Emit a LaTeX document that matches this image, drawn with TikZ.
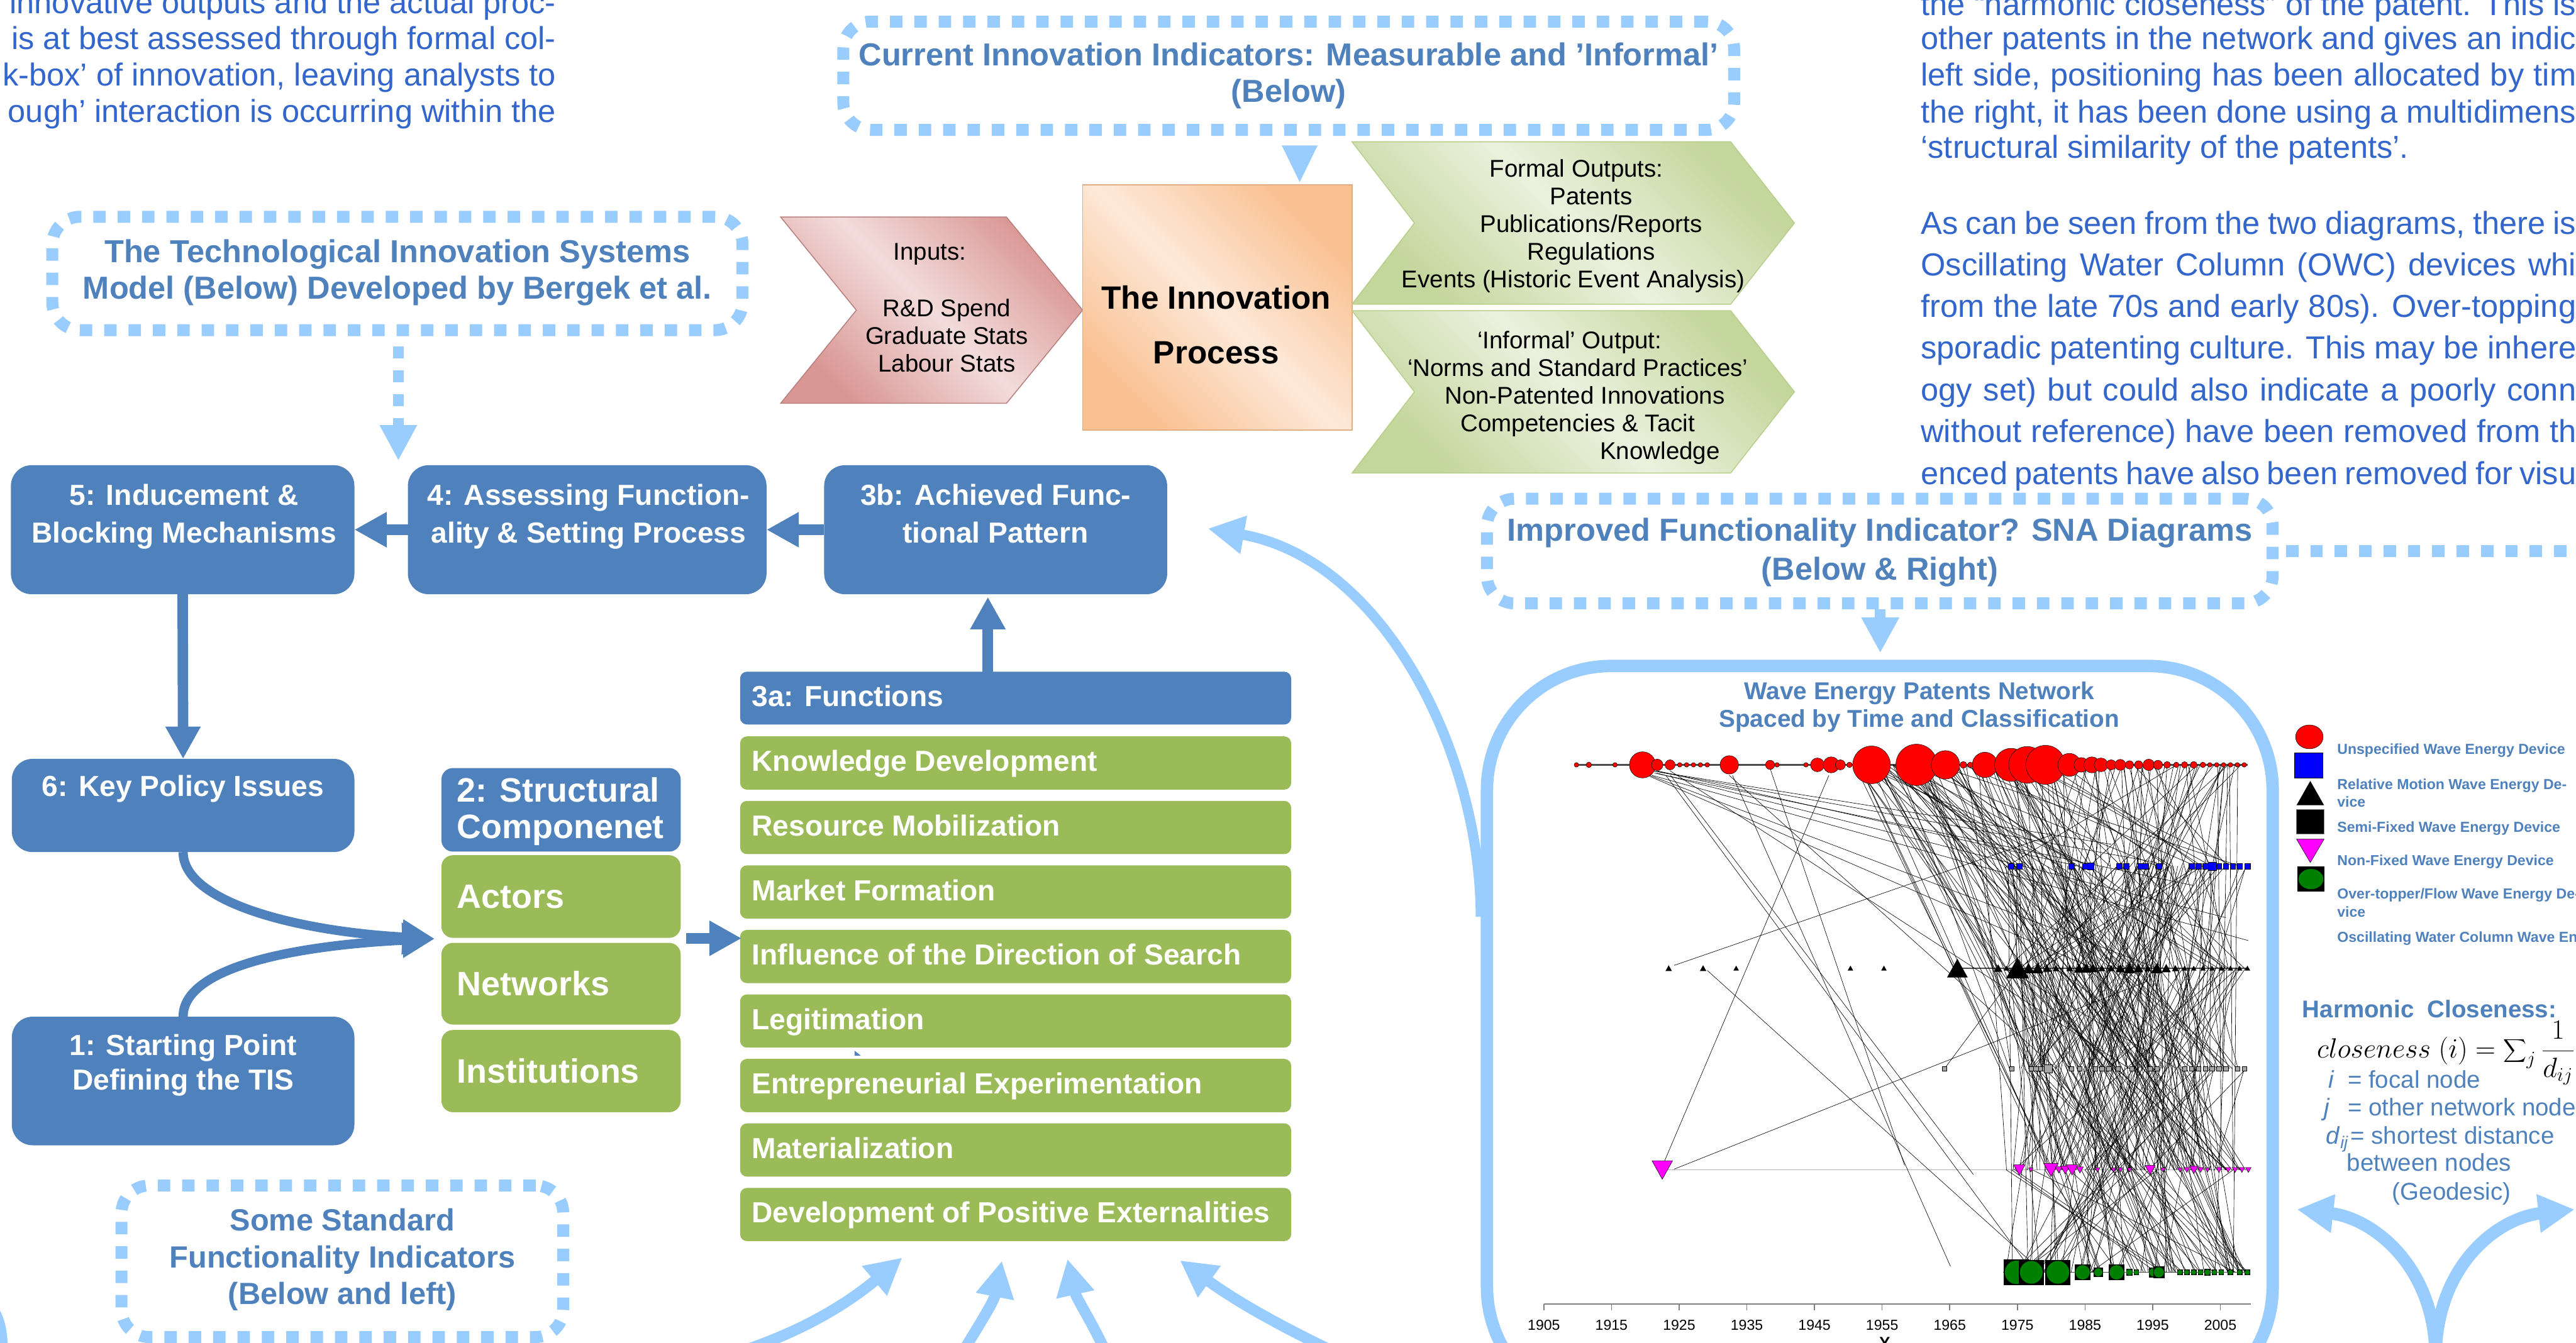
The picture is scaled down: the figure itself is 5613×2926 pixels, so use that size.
\documentclass[tikz,border=0pt]{standalone}
\usepackage{fontspec}
\setmainfont{Liberation Sans}
\usetikzlibrary{arrows.meta,calc}
\definecolor{boxblue}{HTML}{4F81BD}
\definecolor{boxgreen}{HTML}{9BBB59}
\definecolor{lblue}{HTML}{99CCFF}
\definecolor{txtblue}{HTML}{3366CC}
\definecolor{pinkd}{HTML}{D99694}
\definecolor{pinkl}{HTML}{F2DCDB}
\definecolor{orad}{HTML}{FAC090}
\definecolor{oral}{HTML}{FDE9D9}
\definecolor{grnd}{HTML}{C3D69B}
\definecolor{grnl}{HTML}{EBF1DE}
\definecolor{netgreen}{HTML}{008000}
\definecolor{netmag}{HTML}{FF00FF}
\newcommand{\fsz}[2]{\fontsize{#1}{#2}\selectfont}
\newcommand{\myjust}[1]{\makebox[406pt][s]{#1}}
\tikzset{
  bluebox/.style={fill=boxblue, rounded corners=0.45cm, inner sep=0pt, outer sep=0pt},
  greenbox/.style={fill=boxgreen, rounded corners=0.15cm, inner sep=0pt, outer sep=0pt},
  bluebar/.style={fill=boxblue, rounded corners=0.15cm, inner sep=0pt, outer sep=0pt},
  structbox/.style={rounded corners=0.25cm, inner sep=0pt, outer sep=0pt},
  boxtxt/.style={text=white, font=\bfseries\fsz{18}{23.6}, align=center, inner sep=0pt},
  itemtxt/.style={text=white, font=\bfseries\fsz{18}{21}, anchor=mid west, inner sep=0pt},
  structtxt/.style={text=white, font=\bfseries\fsz{21}{22.5}, anchor=west, align=left, inner sep=0pt},
  dashbox/.style={draw=lblue, line width=7.4pt, dash pattern=on 7.7pt off 7.4pt, rounded corners=0.6cm, inner sep=0pt},
  titletxt/.style={text=boxblue, font=\bfseries\fsz{19.7}{22.8}, align=center, inner sep=0pt},
  blockarrow/.style={draw=boxblue, line width=6.5pt, -{Triangle[width=20.5pt,length=20pt]}},
  curvearrow/.style={draw=boxblue, line width=5.7pt, -{Triangle[width=20.5pt,length=20pt]}},
  lbarrow/.style={draw=lblue, line width=6.8pt, -{Triangle[width=22.5pt,length=22.5pt]}},
  paratxt/.style={text=txtblue, font=\fsz{19.7}{22.6}, inner sep=0pt},
  blacktxt/.style={text=black, font=\fsz{15}{17.1}, inner sep=0pt},
  legtxt/.style={text=boxblue, font=\bfseries\fsz{9}{10.5}, anchor=mid west, inner sep=0pt},
  hctxt/.style={text=boxblue, font=\fsz{15}{17}, anchor=mid west, inner sep=0pt},
  edge/.style={draw=black, line width=0.25pt},
  nd/.style={draw=black, line width=0.2pt},
}
\begin{document}
\begin{tikzpicture}[x=0.01cm,y=-0.01cm]
\useasboundingbox (0,0) rectangle (5613,2926);
\fill[white] (0,0) rectangle (5613,2926);

% ---------------- paragraphs
\node[paratxt, anchor=base east] (tl1) at (1212,29) {innovative outputs and the actual proc-};
\node[paratxt, anchor=base east] (tl2) at (1212,108) {is at best assessed through formal col-};
\node[paratxt, anchor=base east] (tl3) at (1212,187) {k-box’ of innovation, leaving analysts to};
\node[paratxt, anchor=base east] (tl4) at (1212,267) {ough’ interaction is occurring within the};

\node[paratxt, anchor=mid west] (tr1) at (4185,24) {\myjust{the “harmonic closeness” of the patent. This is}};
\node[paratxt, anchor=mid west] (tr2) at (4185,98) {\myjust{other patents in the network and gives an indic}};
\node[paratxt, anchor=mid west] (tr3) at (4185,178) {\myjust{left side, positioning has been allocated by tim}};
\node[paratxt, anchor=mid west] (tr4) at (4185,259) {\myjust{the right, it has been done using a multidimens}};
\node[paratxt, anchor=mid west] (tr5) at (4185,336) {‘structural similarity of the patents’.};
\node[paratxt, anchor=mid west] (tr6) at (4185,501) {\myjust{As can be seen from the two diagrams, there is}};
\node[paratxt, anchor=mid west] (tr7) at (4185,591) {\myjust{Oscillating Water Column (OWC) devices whi}};
\node[paratxt, anchor=mid west] (tr8) at (4185,682) {\myjust{from the late 70s and early 80s). Over-topping}};
\node[paratxt, anchor=mid west] (tr9) at (4185,773) {\myjust{sporadic patenting culture. This may be inhere}};
\node[paratxt, anchor=mid west] (tr10) at (4185,864) {\myjust{ogy set) but could also indicate a poorly conn}};
\node[paratxt, anchor=mid west] (tr11) at (4185,955) {\myjust{without reference) have been removed from th}};
\node[paratxt, anchor=mid west] (tr12) at (4185,1046) {\myjust{enced patents have also been removed for visu}};

% ---------------- dashed title boxes
\node[dashbox, minimum width=19.40cm, minimum height=2.36cm] (tA) at (2808,165) {};
\node[titletxt] (tAt) at (2808,165) {Current Innovation Indicators: Measurable and ’Informal’\\(Below)};
\node[dashbox, minimum width=15.03cm, minimum height=2.47cm] (tB) at (866,596) {};
\node[titletxt] (tBt) at (866,594) {The Technological Innovation Systems\\Model (Below) Developed by Bergek et al.};
\node[dashbox, minimum width=17.11cm, minimum height=2.28cm] (tC) at (4096,1201) {};
\node[titletxt, font=\bfseries\fsz{19.7}{24}] (tCt) at (4096,1204) {Improved Functionality Indicator? SNA Diagrams\\(Below \& Right)};
\node[dashbox, minimum width=9.62cm, minimum height=3.30cm] (tD) at (746,2749) {};
\node[titletxt, font=\bfseries\fsz{19}{22.8}] (tDt) at (746,2746) {Some Standard\\Functionality Indicators\\(Below and left)};

\coordinate (cEdge) at (5660,1201);
\draw[draw=lblue, line width=7.4pt, dash pattern=on 7.7pt off 7.4pt] ($(tC.east)+(16,0)$) -- (cEdge);

% arrow from B (dashed)
\coordinate (bTip) at (868,1004);
\draw[draw=lblue, line width=6.8pt, dash pattern=on 7.4pt off 7.4pt, -{Triangle[width=21.6pt,length=22pt]}] ($(tB.south -| bTip)+(0,22)$) -- (bTip);
% wedge from A
\coordinate (aTip) at (2832,397);
\fill[lblue] ($(aTip)+(-39,-80)$) -- ($(aTip)+(39,-80)$) -- (aTip) -- cycle;
% arrow from C to panel
\coordinate (cTip) at (4097,1423);
\draw[draw=lblue, line width=6.8pt, -{Triangle[width=22pt,length=22pt]}] (tC.south -| cTip) -- (cTip);

% ---------------- innovation process
\shadedraw[draw=pinkd!85!black, line width=0.6pt, top color=pinkd, bottom color=pinkd, middle color=pinkl, shading angle=-45]
  (1701,473) -- (2193,473) -- (2359,676) -- (2193,879) -- (1701,879) -- (1866,676) -- cycle;
\node[draw=orad!90!black, line width=0.6pt, top color=orad, bottom color=orad, middle color=oral, shading angle=-45, minimum width=5.87cm, minimum height=5.34cm, inner sep=0pt] (proc) at (2652.5,670) {};
\shadedraw[draw=boxgreen!70, line width=0.6pt, top color=grnd, bottom color=grnd, middle color=grnl, shading angle=-45]
  (2946,309) -- (3771,309) -- (3910,486) -- (3771,663) -- (2946,663) -- (3082,486) -- cycle;
\shadedraw[draw=boxgreen!70, line width=0.6pt, top color=grnd, bottom color=grnd, middle color=grnl, shading angle=-45]
  (2946,677) -- (3771,677) -- (3910,854) -- (3771,1031) -- (2946,1031) -- (3082,854) -- cycle;

\node[blacktxt, anchor=mid] (in1) at (2026,557) {Inputs:};
\node[blacktxt, align=center] (in2) at (2063,731) {R\&D Spend\\Graduate Stats\\Labour Stats};
\node[font=\bfseries\fsz{20}{34}, align=center, inner sep=0pt] (proct) at (2650,708) {The Innovation\\Process};
\node[blacktxt, anchor=mid] (fo1) at (3435,377) {Formal Outputs:};
\node[blacktxt, anchor=mid] (fo2) at (3467,437) {Patents};
\node[blacktxt, anchor=mid] (fo3) at (3467,497) {Publications/Reports};
\node[blacktxt, anchor=mid] (fo4) at (3467,558) {Regulations};
\node[blacktxt, anchor=mid] (fo5) at (3428,618) {Events (Historic Event Analysis)};
\node[blacktxt, anchor=mid] (io1) at (3420,750) {‘Informal’ Output:};
\node[blacktxt, anchor=mid] (io2) at (3438,811) {‘Norms and Standard Practices’};
\node[blacktxt, anchor=mid] (io3) at (3453,871) {Non-Patented Innovations};
\node[blacktxt, anchor=mid] (io4) at (3438,932) {Competencies \& Tacit};
\node[blacktxt, anchor=mid] (io5) at (3617,992) {Knowledge};

% ---------------- TIS model boxes
\node[bluebox, minimum width=7.48cm, minimum height=2.81cm] (b5) at (398,1154.5) {};
\node[boxtxt, anchor=north] (b5t) at ($(b5.north)+(3,40)$) {5: Inducement \&\\Blocking Mechanisms};
\node[bluebox, minimum width=7.81cm, minimum height=2.81cm] (b4) at (1279.5,1154.5) {};
\node[boxtxt, anchor=north] (b4t) at ($(b4.north)+(3,40)$) {4: Assessing Function-\\ality \& Setting Process};
\node[bluebox, minimum width=7.47cm, minimum height=2.81cm] (b3b) at (2169.5,1154.5) {};
\node[boxtxt, anchor=north] (b3bt) at ($(b3b.north)+(0,40)$) {3b: Achieved Func-\\tional Pattern};
\node[bluebox, minimum width=7.46cm, minimum height=2.03cm] (b6) at (399,1755.5) {};
\node[boxtxt, anchor=north] (b6t) at ($(b6.north)+(0,35)$) {6: Key Policy Issues};
\node[bluebox, minimum width=7.46cm, minimum height=2.80cm] (b1) at (399,2356) {};
\node[boxtxt, font=\bfseries\fsz{18}{21.3}, anchor=north] (b1t) at ($(b1.north)+(0,38)$) {1: Starting Point\\Defining the TIS};

\node[structbox, fill=boxblue, minimum width=5.21cm, minimum height=1.82cm] (b2) at (1222.5,1765) {};
\node[structtxt] (b2t) at (995,1769) {2: Structural\\Componenet};
\node[structbox, fill=boxgreen, minimum width=5.21cm, minimum height=1.80cm] (actors) at (1222.5,1954) {};
\node[structtxt] (actorst) at ($(actors.west)+(33,0)$) {Actors};
\node[structbox, fill=boxgreen, minimum width=5.21cm, minimum height=1.78cm] (networks) at (1222.5,2144) {};
\node[structtxt] (networkst) at ($(networks.west)+(33,0)$) {Networks};
\node[structbox, fill=boxgreen, minimum width=5.21cm, minimum height=1.79cm] (insts) at (1222.5,2334.5) {};
\node[structtxt] (instst) at ($(insts.west)+(33,0)$) {Institutions};

\node[bluebar, minimum width=12.00cm, minimum height=1.15cm] (b3a) at (2213,1521.5) {};
\node[itemtxt] (b3at) at ($(b3a.west)+(25,9)$) {3a: Functions};
\foreach \kk/\lab in {0/Knowledge Development,1/Resource Mobilization,2/Market Formation,3/Influence of the Direction of Search,4/Legitimation,5/Entrepreneurial Experimentation,6/Materialization,7/Development of Positive Externalities}{
  \pgfmathsetmacro{\cy}{1663+140.57*\kk}
  \node[greenbox, minimum width=12.00cm, minimum height=1.16cm] (f\kk) at (2213,\cy) {};
  \node[itemtxt] (f\kk t) at ($(f\kk.west)+(25,9)$) {\lab};
}
\fill[boxblue] (1862,2290) -- (1876,2301) -- (1862,2301) -- cycle;

% connectors
\draw[blockarrow] (b4.west) -- (b5.east);
\draw[blockarrow] (b3b.west) -- (b4.east);
\draw[blockarrow] ($(b3b.south |- b3a.north)+(-17,14)$) -- ($(b3b.south)+(-17,6)$);
\draw[blockarrow] (b5.south) -- (b6.north);
\coordinate (stip) at (947,2046);
\draw[curvearrow] (b6.south) .. controls ($(b6.south)+(0,110)$) and (650,2030) .. (stip);
\draw[curvearrow] (b1.north) .. controls ($(b1.north)+(0,-110)$) and (650,2060) .. (stip);
\coordinate (sa) at (1495,2045);
\coordinate (iTip) at (1616,2045);
\draw[blockarrow] (sa) -- (iTip);

% ---------------- SNA panel
\node[draw=lblue, line width=7.7pt, rounded corners=2.7cm, minimum width=17.11cm, minimum height=16.22cm, anchor=north, inner sep=0pt] (panel) at (4096,1438) {};
\node[titletxt, font=\bfseries\fsz{15.1}{17.4}] (ptitle) at (4182,1541) {Wave Energy Patents Network\\Spaced by Time and Classification};

% row lines
\draw[black!70, line width=0.8pt] (3435,1667) -- (4897,1667);
\draw[black!70, line width=0.6pt] (4265,2110) -- (4899,2110);
\draw[black!30, line width=0.4pt] (3622,2550) -- (4899,2550);
\draw[black!70, line width=0.6pt] (4365,2773) -- (4899,2773);

% edges
\foreach \xa/\ya/\xb/\yb in {3600/1680/4600/1840,3600/1680/4700/1880,3605/1685/4780/1930,3610/1685/4850/2000,3600/1690/4899/2050,3595/1690/4700/2110,3590/1690/4560/2110,3630/1690/4420/2760,3640/1690/4300/2560,3775/1690/4250/2760,3625/2535/3985/1690,3648/2548/4680/2138,3648/2104/4470/1820,3720/2115/4420/2745,3857/1675/4150/2540,3768/1690/4480/2329,4237/2329/4400/2110,3611/1680/4530/1888,3639/1680/4640/2329}
  \draw[edge] (\xa,\ya) -- (\xb,\yb);
\pgfmathsetseed{4242}
\foreach \kk in {1,...,330}{
  \pgfmathrandominteger{\ra}{0}{5}
  \pgfmathrandominteger{\rb}{0}{5}
  \pgfmathsetmacro{\ya}{{1667,1888,2110,2329,2550,2773}[\ra]}
  \pgfmathsetmacro{\yb}{{1667,1888,2110,2329,2550,2773}[\rb]}
  \pgfmathsetmacro{\xa}{4370+530*rnd}
  \pgfmathsetmacro{\xb}{4370+530*rnd}
  \ifnum\ra=\rb\else\draw[edge] (\xa,\ya) -- (\xb,\yb);\fi
}
\foreach \kk in {1,...,80}{
  \pgfmathrandominteger{\rb}{1}{5}
  \pgfmathsetmacro{\yb}{{1667,1888,2110,2329,2550,2773}[\rb]}
  \pgfmathsetmacro{\xa}{4040+360*rnd}
  \pgfmathsetmacro{\xb}{4360+540*rnd}
  \draw[edge] (\xa,1667) -- (\xb,\yb);
}

% nodes of network
\foreach \xx/\dd [evaluate=\dd as \rr using \dd*0.005] in {3435/10,3462/12,3519/10,3579/57,3611/25,3639/22,3660/10,3675/10,3690/10,3705/10,3720/10,3768/40,3857/20,3872/10,3935/10,3960/30,3990/35,4010/22,4030/12,4046/12,4078/82,4176/90,4239/62,4278/15,4293/12,4325/55,4382/72,4417/80,4457/85,4509/50,4535/32,4558/35,4578/30,4600/22,4620/24,4640/18,4660/18,4682/25,4702/20,4722/15,4742/12,4760/14,4780/15,4800/12,4815/10,4830/10,4845/10,4860/10,4875/10,4890/10}
  \filldraw[fill=red, nd] (\xx,1667) circle[radius=\rr cm];
\foreach \xx/\sz in {4382/12,4400/12,4514/12,4543/12,4555/14,4618/12,4633/12,4664/12,4675/12,4704/12,4775/12,4790/12,4805/12,4820/18,4835/12,4850/12,4865/12,4880/12,4897/12}
  \filldraw[fill=blue, nd] ({\xx-\sz/2},{1888-\sz/2}) rectangle ({\xx+\sz/2},{1888+\sz/2});
\foreach \xx/\sz in {3636/14,3711/14,3783/12,4032/12,4105/12,4265/45,4354/18,4372/12,4396/50,4420/25,4440/25,4460/18,4480/15,4510/15,4530/22,4545/22,4560/20,4580/15,4600/15,4620/20,4640/25,4660/20,4680/15,4700/25,4720/20,4740/15,4760/12,4780/12,4800/12,4820/12,4840/12,4860/12,4880/12,4897/12}
  \fill[black] ({\xx-\sz/2},{2110+\sz*0.45}) -- ({\xx+\sz/2},{2110+\sz*0.45}) -- (\xx,{2110-\sz*0.45}) -- cycle;
\foreach \xx/\sz in {4237/10,4383/10,4426/10,4436/10,4446/10,4455/10,4463/18,4514/10,4531/10,4566/10,4580/10,4595/10,4615/10,4645/10,4685/10,4700/10,4760/10,4775/10,4790/10,4805/10,4820/10,4835/10,4850/10,4875/10,4890/10}
  \filldraw[fill=gray!70, nd] ({\xx-\sz/2},{2329-\sz/2}) rectangle ({\xx+\sz/2},{2329+\sz/2});
\foreach \xx/\sz in {3622/45,4400/25,4425/10,4469/32,4486/15,4500/20,4515/25,4532/15,4570/10,4605/10,4620/10,4640/10,4685/22,4713/10,4750/10,4765/12,4780/18,4795/12,4810/10,4835/12,4855/12,4870/12,4885/12,4899/12}
  \filldraw[fill=netmag, nd] ({\xx-\sz/2},{2550-\sz*0.45}) -- ({\xx+\sz/2},{2550-\sz*0.45}) -- (\xx,{2550+\sz*0.45}) -- cycle;
\foreach \xx/\sz [evaluate=\sz as \rx using \sz*0.0045] in {4394/57,4426/55,4484/55,4538/35,4572/20,4612/35,4640/15,4655/12,4693/22,4704/25,4750/12,4765/12,4780/12,4795/12,4810/14,4825/12,4840/12,4860/12,4880/12,4897/12}{
  \fill[black] ({\xx-\sz/2},{2773-\sz/2}) rectangle ({\xx+\sz/2},{2773+\sz/2});
  \fill[netgreen] (\xx,2773) ellipse[x radius=\rx cm, y radius=\rx cm];
}

% axis
\draw[gray, line width=0.8pt] (3364,2842) -- (4905,2842);
\foreach \yr in {1905,1915,...,2005}{
  \pgfmathsetmacro{\xx}{3364+(\yr-1905)*14.74}
  \draw[gray, line width=0.6pt] (\xx,2842) -- (\xx,2856);
  \node[font=\fsz{9}{10}, inner sep=0pt] (yr\yr) at (\xx,2888) {\yr};
}
\node[font=\bfseries\fsz{10}{11}, anchor=north, inner sep=0pt] (ylab) at (4107,2914) {Y};

% big arc to 3b
\coordinate (t3b) at (2632,1152);
\draw[lbarrow, line width=6.3pt] ($(panel.north west)+(0,560)$) .. controls ($(panel.north west)+(0,212)$) and (3020,1220) .. (t3b);

% bottom arrows
\coordinate (ba1) at (1600,2950); \coordinate (ta1) at (1966,2741);
\coordinate (ba2) at (2090,2960); \coordinate (ta2) at (2183,2748);
\coordinate (ba3) at (2415,2960); \coordinate (ta3) at (2326,2744);
\coordinate (ba4) at (3000,2990); \coordinate (ta4) at (2571,2747);
\draw[lbarrow] (ba1) .. controls (1760,2900) and (1860,2830) .. (ta1);
\draw[lbarrow] (ba2) .. controls (2125,2900) and (2165,2840) .. (ta2);
\draw[lbarrow] (ba3) .. controls (2385,2890) and (2345,2830) .. (ta3);
\draw[lbarrow] (ba4) .. controls (2880,2935) and (2731,2863) .. (ta4);
\draw[draw=lblue, line width=6.5pt] (-25,2842) .. controls (0,2868) and (6,2900) .. (6,2960);

% legend
\filldraw[fill=red, nd] (5032,1606) ellipse[x radius=0.30cm, y radius=0.26cm];
\filldraw[fill=blue, nd] (5000,1641) rectangle (5061,1695);
\fill[black] (5004,1755) -- (5064,1755) -- (5034,1702) -- cycle;
\filldraw[fill=black, draw=gray] (5004,1764) rectangle (5064,1818);
\filldraw[fill=netmag, nd] (5004,1829) -- (5064,1829) -- (5034,1880) -- cycle;
\fill[black] (5006,1889) rectangle (5065,1943);
\fill[netgreen] (5035.5,1916) ellipse[x radius=0.27cm, y radius=0.22cm];
\node[legtxt] (lg1) at (5092,1635) {Unspecified Wave Energy Device};
\node[legtxt] (lg2a) at (5092,1711) {Relative Motion Wave Energy De-};
\node[legtxt] (lg2b) at (5092,1750) {vice};
\node[legtxt] (lg3) at (5092,1804) {Semi-Fixed Wave Energy Device};
\node[legtxt] (lg4) at (5092,1877) {Non-Fixed Wave Energy Device};
\node[legtxt] (lg5a) at (5092,1950) {Over-topper/Flow Wave Energy De-};
\node[legtxt] (lg5b) at (5092,1990) {vice};
\node[legtxt] (lg6) at (5092,2044) {Oscillating Water Column Wave Energy Device};

% harmonic closeness
\node[text=boxblue, font=\bfseries\fsz{15}{17}, anchor=mid west, inner sep=0pt] (hc) at (5016,2208) {Harmonic\ \ Closeness:};
\node[anchor=base west, inner sep=0pt, font=\fsz{17.28}{18}] (hcf) at (5048,2306) {$\displaystyle closeness\ (i) = \sum\nolimits_j \frac{1}{d_{ij}}$};
\node[hctxt] (hv1) at (5073,2362) {\textit{i}};
\node[hctxt] (hd1) at (5115,2362) {= focal node};
\node[hctxt] (hv2) at (5064,2422) {\textit{j}};
\node[hctxt] (hd2) at (5115,2422) {= other network node};
\node[hctxt] (hv3) at (5068,2484) {\textit{d}\textsubscript{\textit{ij}}};
\node[hctxt] (hd3) at (5121,2484) {= shortest distance};
\node[hctxt] (hd4) at (5113,2543) {between nodes};
\node[hctxt] (hd5) at (5212,2606) {(Geodesic)};

% fork arrow
\coordinate (fork) at (5307,2960);
\coordinate (fl) at (5005,2636);
\coordinate (fr) at (5610,2636);
\draw[lbarrow, line width=7.7pt] (fork) .. controls (5307,2760) and (5170,2655) .. (fl);
\draw[lbarrow, line width=7.7pt] (fork) .. controls (5307,2760) and (5440,2655) .. (fr);
\end{tikzpicture}
\end{document}
